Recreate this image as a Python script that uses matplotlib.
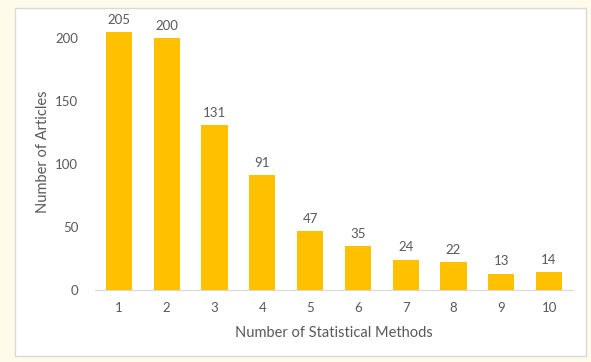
import matplotlib.pyplot as plt
from matplotlib.patches import Rectangle

# data
methods = ['1', '2', '3', '4', '5', '6', '7', '8', '9', '10']
articles = [205, 200, 131, 91, 47, 35, 24, 22, 13, 14]

bar_color = '#FFC000'
txt = '#595959'
plt.rcParams['font.family'] = ['Lato', 'DejaVu Sans']

fig = plt.figure(figsize=(5.91, 3.62), dpi=100)
fig.patch.set_facecolor('#FFFBEA')
# white chart area with thin grey frame
fig.patches.append(Rectangle((15 / 591, 1 - 356 / 362), 571 / 591, 348 / 362,
                             transform=fig.transFigure, facecolor='white',
                             edgecolor='#D9D9D9', lw=1, zorder=-5))

ax = fig.add_axes([95 / 591, 1 - 290 / 362, 478 / 591, 277 / 362])
ax.set_facecolor('none')

x = range(len(methods))
bars = ax.bar(x, articles, width=0.55, color=bar_color, zorder=2)
for xi, v in zip(x, articles):
    ax.text(xi, v + 5, str(v), ha='center', va='bottom', fontsize=9.5, color=txt)

ax.set_xlim(-0.5, len(methods) - 0.5)
ax.set_ylim(0, 220)
ax.set_xticks(list(x))
ax.set_xticklabels(methods)
ax.set_yticks([0, 50, 100, 150, 200])
ax.tick_params(axis='both', length=0, labelsize=9.5, colors=txt)
ax.tick_params(axis='x', pad=9)
ax.tick_params(axis='y', pad=12)

for s in ['top', 'right', 'left']:
    ax.spines[s].set_visible(False)
ax.spines['bottom'].set_color('#D9D9D9')

ax.set_xlabel('Number of Statistical Methods', fontsize=10.5, color=txt, labelpad=8)
ax.set_ylabel('Number of Articles', fontsize=10.5, color=txt, labelpad=4)

fig.savefig('out.png', dpi=100, facecolor=fig.get_facecolor())
